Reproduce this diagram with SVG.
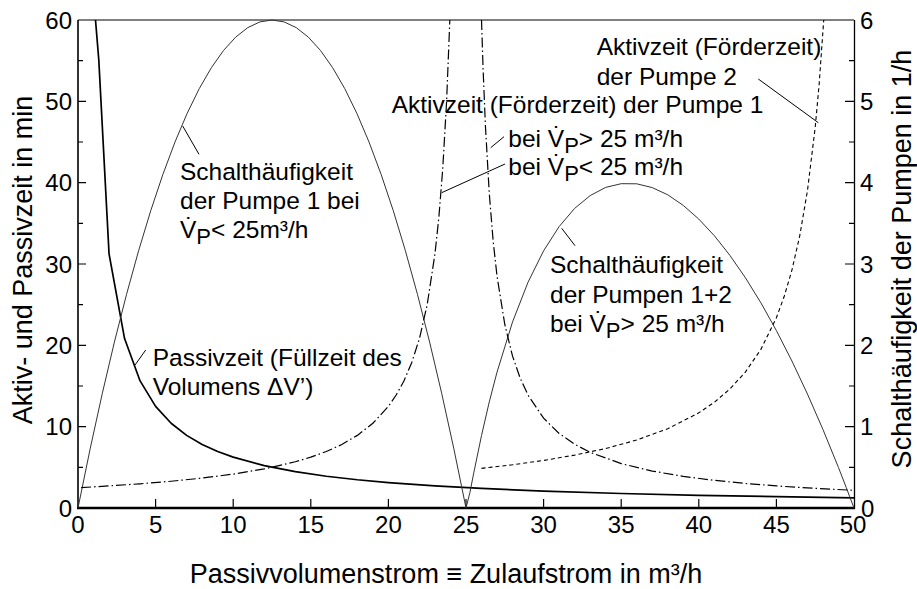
<svg xmlns="http://www.w3.org/2000/svg" width="917" height="589" viewBox="0 0 917 589">
<style>
text{font-family:"Liberation Sans",Arial,Helvetica,sans-serif;fill:#000}
.tk{font-size:24px}
.an{font-size:24.5px}
.ti{font-size:27px}
.tick{fill:none;stroke:#000;stroke-width:1.2}
.pas{fill:none;stroke:#000;stroke-width:1.7;stroke-linejoin:round}
.sh{fill:none;stroke:#333;stroke-width:1}
.dd{fill:none;stroke:#000;stroke-width:1.2;stroke-dasharray:10 3 1.5 3}
.ds{fill:none;stroke:#000;stroke-width:1.1;stroke-dasharray:4 3}
.ld{fill:none;stroke:#000;stroke-width:1}
</style>
<rect x="0" y="0" width="917" height="589" fill="#fff"/>
<g id="axes">
<line x1="78" y1="20" x2="854" y2="20" stroke="#000" stroke-width="1"/>
<line x1="854.5" y1="20" x2="854.5" y2="509" stroke="#000" stroke-width="1.3"/>
<line x1="78" y1="20" x2="78" y2="509" stroke="#000" stroke-width="1.6"/>
<line x1="77" y1="508" x2="855" y2="508" stroke="#000" stroke-width="2.6"/>
</g>
<g id="ticks" class="tick">
<path d="M78,467.33h5M78,426.67h8M78,386h5M78,345.33h8M78,304.67h5M78,264h8M78,223.33h5M78,182.67h8M78,142h5M78,101.33h8M78,60.67h5"/>
<path d="M854,467.33h-5M854,426.67h-9M854,386h-5M854,345.33h-9M854,304.67h-5M854,264h-9M854,223.33h-5M854,182.67h-9M854,142h-5M854,101.33h-9M854,60.67h-5"/>
<path d="M155.6,508v-9M233.2,508v-9M310.8,508v-9M388.4,508v-9M466,508v-9M543.6,508v-9M621.2,508v-9M698.8,508v-9M776.4,508v-9"/>
</g>
<g id="left-tick-labels" class="tk" text-anchor="end">
<text x="72" y="28.5">60</text>
<text x="72" y="109.8">50</text>
<text x="72" y="191.2">40</text>
<text x="72" y="272.5">30</text>
<text x="72" y="353.8">20</text>
<text x="72" y="435.2">10</text>
<text x="72" y="516.5">0</text>
</g>
<g id="right-tick-labels" class="tk">
<text x="860" y="28.5">6</text>
<text x="860" y="109.8">5</text>
<text x="860" y="191.2">4</text>
<text x="860" y="272.5">3</text>
<text x="860" y="353.8">2</text>
<text x="860" y="435.2">1</text>
<text x="861" y="516.5">0</text>
</g>
<g id="bottom-tick-labels" class="tk" text-anchor="middle">
<text x="78" y="533">0</text>
<text x="155.6" y="533">5</text>
<text x="233.2" y="533">10</text>
<text x="310.8" y="533">15</text>
<text x="388.4" y="533">20</text>
<text x="466" y="533">25</text>
<text x="543.6" y="533">30</text>
<text x="621.2" y="533">35</text>
<text x="698.8" y="533">40</text>
<text x="776.4" y="533">45</text>
<text x="853" y="533">50</text>
</g>
<g id="axis-titles" class="ti">
<text x="446" y="583" text-anchor="middle">Passivvolumenstrom ≡ Zulaufstrom in m³/h</text>
<text transform="translate(32,260) rotate(-90)" text-anchor="middle">Aktiv- und Passivzeit in min</text>
<text transform="translate(911,259) rotate(-90)" text-anchor="middle">Schalthäufigkeit der Pumpen in 1/h</text>
</g>
<g id="curves">
<path id="passivzeit" class="pas" d="M95.5,20 L98.8,60 L109.04,253.83 L124.56,338.56 L140.08,380.92 L155.6,406.33 L171.12,423.28 L186.64,435.38 L202.16,444.46 L217.68,451.52 L233.2,457.17 L264.24,465.64 L295.28,471.69 L326.32,476.23 L357.36,479.76 L388.4,482.58 L434.96,485.9 L481.52,488.45 L543.6,491.06 L621.2,493.48 L698.8,495.29 L776.4,496.7 L854,497.83"/>
<path id="schalt1" class="sh" d="M78,508 Q272,-468 466,508"/>
<path id="schalt12" class="sh" d="M466,508 L469.88,492.7 L473.76,472.9 L481.52,435.5 L489.28,401.9 L497.04,372.1 L512.56,321.9 L528.08,282.1 L543.6,250.8 L559.12,226.6 L574.64,208.4 L590.16,195.6 L605.68,187.4 L621.2,183.7 L636.72,183.8 L652.24,187.6 L667.76,194.8 L683.28,205.4 L698.8,219.1 L714.32,235.7 L729.84,255.3 L745.36,277.7 L760.88,302.8 L776.4,330.6 L791.92,361 L807.44,394 L822.96,429.5 L838.48,467.5 L846.24,487.5 L854,508"/>
<path id="aktiv1-lt" class="dd" d="M81.1,487.6 L109.04,485.9 L140.08,483.8 L171.12,481.25 L202.16,478.1 L233.2,474.11 L264.24,468.9 L295.28,461.79 L310.8,457.17 L326.32,451.52 L341.84,444.46 L357.36,435.38 L372.88,423.28 L388.4,406.33 L396.16,395.04 L403.92,380.92 L411.68,362.76 L419.44,338.56 L427.2,304.67 L434.96,253.83 L438.84,217.53 L442.72,169.11 L446.6,101.33 L449.83,20"/>
<path id="aktiv1-gt" class="dd" d="M481.52,20 L483.07,68.4 L485.4,125.4 L489.28,193.5 L493.16,241.1 L497.04,276.2 L504.8,324.5 L512.56,356.2 L520.32,378.5 L528.08,395.15 L543.6,418.21 L559.12,433.44 L574.64,444.26 L590.16,452.34 L621.2,463.59 L652.24,471.06 L683.28,476.38 L714.32,480.36 L745.36,483.45 L776.4,485.92 L807.44,487.93 L854,490.35"/>
<path id="aktiv2" class="ds" d="M481.52,468.35 L512.56,464.75 L543.6,460.42 L574.64,455.13 L605.68,448.53 L636.72,440.03 L667.76,428.7 L698.8,412.84 L714.32,402.27 L729.84,389.05 L745.36,372.06 L760.88,349.4 L776.4,317.68 L784.16,296.53 L791.92,270.1 L799.68,236.1 L807.44,190.8 L815.2,127.4 L819.08,85.1 L823.74,20"/>
</g>
<g id="leaders" class="ld">
<line x1="182.7" y1="126" x2="199" y2="154.3"/>
<line x1="145.7" y1="350" x2="135" y2="365"/>
<line x1="504" y1="136.7" x2="490.7" y2="147.7"/>
<line x1="505" y1="164" x2="441.7" y2="192.7"/>
<line x1="758.3" y1="79" x2="818.3" y2="122.7"/>
<line x1="561.7" y1="228.3" x2="575" y2="245.7"/>
</g>
<g id="label-schalt1" class="an">
<text x="180" y="180">Schalthäufigkeit</text>
<text x="180" y="209">der Pumpe 1 bei</text>
<text x="180" y="238">V̇<tspan dy="6" font-size="22">P</tspan><tspan dy="-6">&lt; 25m³/h</tspan></text>
</g>
<g id="label-passiv" class="an">
<text x="152.7" y="366">Passivzeit (Füllzeit des</text>
<text x="152.7" y="395">Volumens ΔV’)</text>
</g>
<g id="label-aktiv1" class="an">
<text x="391.7" y="113.3">Aktivzeit (Förderzeit) der Pumpe 1</text>
<text x="508.3" y="146.7">bei V̇<tspan dy="6" font-size="22">P</tspan><tspan dy="-6">&gt; 25 m³/h</tspan></text>
<text x="508.3" y="175">bei V̇<tspan dy="6" font-size="22">P</tspan><tspan dy="-6">&lt; 25 m³/h</tspan></text>
</g>
<g id="label-aktiv2" class="an">
<text x="596.7" y="55">Aktivzeit (Förderzeit)</text>
<text x="596.7" y="85">der Pumpe 2</text>
</g>
<g id="label-schalt12" class="an">
<text x="550" y="273.3">Schalthäufigkeit</text>
<text x="550" y="302.5">der Pumpen 1+2</text>
<text x="550" y="331.7">bei V̇<tspan dy="6" font-size="22">P</tspan><tspan dy="-6">&gt; 25 m³/h</tspan></text>
</g>
</svg>
